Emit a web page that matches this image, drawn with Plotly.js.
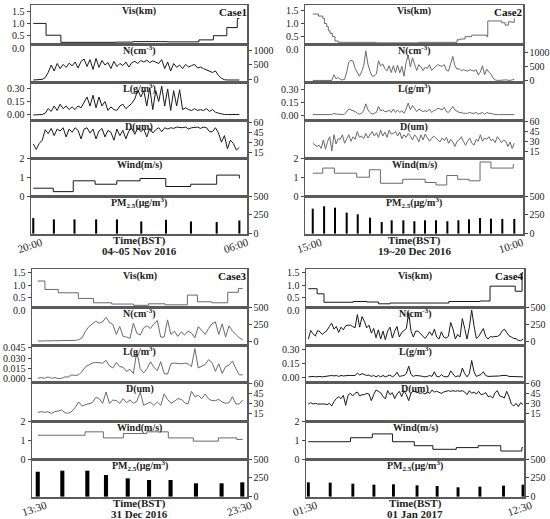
<!DOCTYPE html>
<html><head><meta charset="utf-8">
<script src="https://cdn.plot.ly/plotly-3.0.1.min.js"></script>
<style>html,body{margin:0;padding:0;background:#fff}#chart{width:550px;height:519px}</style>
</head><body><div id="chart"></div>
<script>
// ================= DATA (hours since start of each case) =================
// ---- Case 1 : 04~05 Nov 2016, 20:00 - 06:00 ----
const case1Label = 'Case1', case1Date = '04~05 Nov 2016', case1Ticks = ['20:00', '06:00'], case1Span = 10;
const vis1T = [0, 0.62, 1.34, 4.0, 4.85, 6.5, 8.04, 8.74, 9.39, 9.9, 10];
const vis1 = [1.0, 0.52, 0.23, 0.24, 0.26, 0.25, 0.33, 0.5, 0.83, 1.2, 1.2];
const n1 = [0,0,0,20,80,250,500,300,550,380, 520,420,560,470,600,400,620,700,450,680,
  350,720,420,650,500,580,380,620,450,550, 480,600,430,580,620,550,650,600,660,580,
  640,600,550,680,380,600,300,550,420,500, 380,520,430,480,520,400,430,380,330,300,
  250,300,150,60,10,0,0,0,0,0];
const l1 = [0,0,0,0.005,0.02,0.07,0.04,0.1,0.05,0.12, 0.07,0.1,0.06,0.09,0.06,0.1,0.08,0.14,0.2,0.1,
  0.22,0.08,0.2,0.1,0.15,0.05,0.09,0.06,0.05,0.1, 0.12,0.07,0.1,0.13,0.18,0.28,0.2,0.27,0.1,0.3,
  0.06,0.27,0.15,0.32,0.1,0.29,0.05,0.27,0.1,0.28, 0.06,0.08,0.06,0.05,0.07,0.05,0.06,0.05,0.07,0.04,
  0.06,0.03,0.02,0.01,0.005,0.005,0.005,0.005,0.005,0.005];
const d1 = [27,19,28,33,49,43,51,40,50,47, 52,38,50,45,52,48,35,50,52,44, 50,35,47,51,38,48,45,33,50,40,
  48,35,47,51,42,52,46,50,38,51, 44,49,52,46,52,50,52,51,53,52, 52,53,50,52,52,53,51,53,52,46,
  46,52,44,30,40,20,33,28,18,22];
const wind1T = [0, 0.97, 1.94, 3.0, 4.05, 5.18, 6.43, 7.64, 8.9, 9.9, 10];
const wind1 = [0.41, 0.23, 0.8, 0.62, 0.8, 0.92, 0.5, 0.62, 1.1, 1.1, 0.92];
const pm1T = [0, 1.0, 2.0, 3.05, 4.06, 5.24, 6.44, 7.65, 8.9, 10];
const pm1 = [206, 189, 189, 189, 189, 162, 184, 162, 154, 175];

// ---- Case 2 : 19~20 Dec 2016, 15:00 - 10:00 ----
const case2Label = 'Case2', case2Date = '19~20 Dec 2016', case2Ticks = ['15:00', '10:00'], case2Span = 19;
const vis2T = [0,0.53,0.94,1.1,1.32,1.47,1.63,1.85,2.1,2.42,6,10,13.5,13.6,13.9,14.36,14.98,16.24,16.4,16.5,17.18,17.81,18.13,18.44,18.75,19];
const vis2 = [1.37,1.29,1.2,1.0,0.88,0.72,0.62,0.49,0.32,0.27,0.25,0.27,0.27,0.37,0.4,0.49,0.55,0.55,0.49,1.1,1.1,1.03,0.94,1.07,1.05,1.2];
const n2 = [0,0,0,0,0,0,0,0,0,0, 200,60,100,40,20,40,300,650,720,680, 420,280,150,300,520,1050,580,320,150,160,
  230,700,520,580,420,340,520,280,520,280, 540,270,500,150,640,900,480,800,600,350, 560,480,350,470,420,560,360,420,470,560,
  520,500,560,360,330,600,850,520,400,420, 340,380,360,330,380,360,330,380,200,300, 520,200,400,290,230,80,20,0,10,10,
  20,20,10,0,20,40];
const l2 = [0.005,0.005,0.005,0.005,0.005,0.005,0.005,0.005,0.01,0.005, 0.02,0.01,0.01,0.005,0.005,0.01,0.04,0.07,0.06,0.05,
  0.04,0.02,0.01,0.02,0.05,0.13,0.06,0.03,0.01,0.02, 0.03,0.1,0.05,0.06,0.04,0.04,0.06,0.03,0.07,0.03,
  0.06,0.03,0.05,0.02,0.07,0.14,0.06,0.11,0.07,0.04, 0.07,0.05,0.04,0.05,0.04,0.07,0.03,0.05,0.06,0.08,
  0.07,0.06,0.09,0.04,0.03,0.07,0.1,0.06,0.04,0.03, 0.03,0.02,0.02,0.02,0.03,0.02,0.02,0.03,0.01,0.02,
  0.03,0.01,0.03,0.02,0.02,0.01,0.005,0.005,0.005,0.005, 0.005,0.005,0.005,0.005,0.005,0.005];
const d2 = [27,24,22,24,19,32,18,30,37,15, 40,26,34,33,40,27,34,40,30,37, 33,45,36,38,34,42,35,40,45,38,
  43,36,47,38,44,36,47,41,42,45, 38,44,34,40,36,42,38,32,40,36, 29,40,32,41,36,30,34,38,35,32,
  29,35,31,36,27,33,29,22,30,32, 37,30,24,30,35,27,24,33,30,40, 30,35,33,37,31,33,28,37,33,28,
  32,30,22,29,19,27];
const wind2T = [0,0.94,2.04,4.14,5.34,6.38,8.48,10.59,11.62,12.63,13.66,14.73,15.77,16.8,18.9,19];
const wind2 = [1.2,1.47,1.2,0.99,1.38,0.67,0.88,0.71,0.58,1.08,0.88,0.8,1.79,1.47,1.65,1.65];
const pm2T = [0,1.07,2.1,3.2,4.24,5.4,6.5,7.44,8.54,9.58,10.58,11.62,12.69,13.73,14.73,15.77,16.8,17.87,19.0];
const pm2 = [332,363,345,279,257,212,155,177,177,164,177,177,164,177,190,208,199,195,195];

// ---- Case 3 : 31 Dec 2016, 13:30 - 23:30 ----
const case3Label = 'Case3', case3Date = '31 Dec 2016', case3Ticks = ['13:30', '23:30'], case3Span = 10;
const vis3T = [0,0.35,1.0,1.98,2.72,3.61,4.67,5.4,6.21,7.3,7.79,8.49,9.27,9.79,10];
const vis3 = [1.16,0.83,0.7,0.48,0.31,0.26,0.21,0.27,0.23,0.61,0.35,0.31,0.72,0.87,0.87];
const n3 = [0,0,0,0,0,0,0,0,0,0, 5,10,20,50,150,220,260,300,270,290, 360,280,250,100,220,70,60,40,270,120,
  90,200,230,190,260,310,60,60,320,100, 150,70,140,90,150,120,50,220,160,100, 190,260,290,100,260,60,230,150,100,50, 20];
const l3 = [0.001,0.002,0.001,0.003,0.001,0.002,0.0005,0.001,0.003,0.003, 0.006,0.005,0.006,0.011,0.018,0.021,0.023,0.024,0.023,0.023,
  0.027,0.019,0.016,0.024,0.018,0.017,0.011,0.014,0.008,0.04, 0.015,0.009,0.015,0.025,0.017,0.012,0.025,0.008,0.007,0.022,
  0.023,0.022,0.022,0.023,0.022,0.018,0.044,0.016,0.018,0.021, 0.028,0.024,0.011,0.022,0.008,0.018,0.02,0.026,0.015,0.006, 0.006];
const d3 = [16.5,17.5,16.5,17.5,15,17.5,18.5,20,16,15, 18,24,32,26,28,30,31,39,37,30, 47,30,35,34,30,37,31,35,30,33,
  47,27,30,32,27,32,27,44,36,30, 33,37,36,31,29,48,40,42,37,44, 37,34,34,36,32,30,31,40,29,29, 35];
const wind3T = [0,2.31,3.2,4.18,5.32,6.37,7.59,8.81,9.71,10];
const wind3 = [1.25,1.43,1.11,1.34,1.43,1.11,0.94,1.11,1.03,1.03];
const pm3T = [0,1.2,2.42,3.33,4.39,5.43,6.48,7.72,8.97,9.98];
const pm3 = [331,345,345,287,243,221,221,177,177,190];

// ---- Case 4 : 01 Jan 2017, 01:30 - 12:30 ----
const case4Label = 'Case4', case4Date = '01 Jan 2017', case4Ticks = ['01:30', '12:30'], case4Span = 11;
const vis4T = [0,0.45,0.8,2.3,3.0,3.6,4.2,7.2,8.8,9.31,10.6,10.95,11.0];
const vis4 = [0.86,0.66,0.33,0.36,0.34,0.27,0.3,0.36,0.38,0.96,0.76,1.49,1.49];
const n4 = [28,160,110,75,160,140,100,130,160,220, 270,180,220,130,210,170,230,240,240,220, 200,400,210,370,300,200,240,120,190,50,
  170,30,150,20,150,210,45,150,220,60, 130,160,190,430,150,60,150,150,110,80, 40,85,140,85,180,60,30,140,60,45,
  70,280,180,30,100,60,340,190,30,210, 470,230,40,70,140,190,70,30,70,60, 70,70,90,150,180,130,80,60,40,35, 10,5,28];
const l4 = [0.005,0.01,0.01,0.005,0.01,0.01,0.005,0.01,0.015,0.02, 0.02,0.015,0.02,0.01,0.02,0.015,0.02,0.02,0.02,0.02,
  0.02,0.045,0.025,0.04,0.03,0.02,0.025,0.01,0.02,0.005, 0.02,0.005,0.02,0.005,0.015,0.025,0.005,0.02,0.055,0.01,
  0.015,0.02,0.04,0.12,0.03,0.01,0.02,0.02,0.015,0.01, 0.005,0.01,0.02,0.01,0.06,0.01,0.005,0.03,0.01,0.005,
  0.01,0.07,0.03,0.005,0.015,0.01,0.1,0.04,0.005,0.04, 0.18,0.06,0.01,0.02,0.03,0.06,0.02,0.01,0.01,0.01,
  0.01,0.01,0.015,0.02,0.02,0.02,0.01,0.01,0.01,0.005, 0.002,0.002,0.005];
const d4 = [29,31,29,30,29,29,30,29,28,30, 26,33,37,40,37,42,27,42,45,41, 45,47,41,43,43,45,44,34,43,50,
  48,46,40,37,49,43,46,37,44,48, 40,49,43,34,45,49,47,46,45,46, 44,47,45,50,47,48,46,45,47,48,
  49,48,49,48,49,48,49,47,43,49, 45,47,44,48,43,44,46,40,41,38, 46,49,41,40,38,48,40,29,26,30, 25,31,28];
const wind4T = [0,2.16,3.28,4.31,5.43,6.38,7.58,8.7,9.86,10.94,11.0];
const wind4 = [0.91,1.12,1.32,0.91,0.7,0.51,0.6,0.7,0.42,0.6,0.6];
const pm4T = [0,1.12,2.28,3.36,4.36,5.57,6.6,7.67,8.79,10.0,11.0];
const pm4 = [190,186,172,159,164,150,141,124,133,146,159];

// regularly sampled series -> sample times across the case span
function sampleTimes(values, span) { return values.map((_, i) => i * span / (values.length - 1)); }

// ================= LAYOUT / STYLE =================
const W = 550, H = 519;
const fx = px => px / W;
const fy = px => 1 - px / H;
const FONT = 'Liberation Serif, Times New Roman, serif';
const LINE = '#5a5a5a';

const cases = [
  {label: case1Label, date: case1Date, ticks: case1Ticks, span: case1Span,
   visT: vis1T, vis: vis1, n: n1, l: l1, d: d1, windT: wind1T, wind: wind1, pmT: pm1T, pm: pm1,
   x0: 31, x1: 247, rows: [5, 44, 82, 120, 158, 196, 234], xr: [-0.11, 10.37], color: '#1a1a1a', barW: 0.1,
   rng: {vis: [0.163, 1.748], n: [-67, 1200], l: [-0.056, 0.367], d: [5.9, 63.8], wind: [0, 2], pm: [-5, 500]},
   nTicks: [0, 500, 1000], lTicks: [0, 0.15, 0.3], lFmt: '.2f'},
  {label: case2Label, date: case2Date, ticks: case2Ticks, span: case2Span,
   visT: vis2T, vis: vis2, n: n2, l: l2, d: d2, windT: wind2T, wind: wind2, pmT: pm2T, pm: pm2,
   x0: 305, x1: 523, rows: [5, 44, 82, 120, 158, 196, 234], xr: [-0.73, 19.82], color: '#6a6a6a', barW: 0.19,
   rng: {vis: [0.206, 1.72], n: [-55, 1290], l: [-0.058, 0.385], d: [4.5, 62.5], wind: [0, 2], pm: [-5, 500]},
   nTicks: [0, 500, 1000], lTicks: [0, 0.15, 0.3], lFmt: '.2f'},
  {label: case3Label, date: case3Date, ticks: case3Ticks, span: case3Span,
   visT: vis3T, vis: vis3, n: n3, l: l3, d: d3, windT: wind3T, wind: wind3, pmT: pm3T, pm: pm3,
   x0: 32, x1: 247, rows: [269, 307, 345, 382, 421, 459, 497], xr: [-0.28, 10.21], color: '#6a6a6a', barW: 0.2,
   rng: {vis: [0.145, 1.63], n: [-60, 515], l: [-0.0044, 0.0493], d: [3.5, 62], wind: [0, 2], pm: [-5, 500]},
   nTicks: [0, 250, 500], lTicks: [0, 0.015, 0.03, 0.045], lFmt: '.3f'},
  {label: case4Label, date: case4Date, ticks: case4Ticks, span: case4Span,
   visT: vis4T, vis: vis4, n: n4, l: l4, d: d4, windT: wind4T, wind: wind4, pmT: pm4T, pm: pm4,
   x0: 306, x1: 524, rows: [269, 307, 345, 382, 421, 459, 497], xr: [-0.12, 11.05], color: '#1a1a1a', barW: 0.15,
   rng: {vis: [0.145, 1.63], n: [-60, 515], l: [-0.05, 0.347], d: [3.5, 62], wind: [0, 2], pm: [-5, 500]},
   nTicks: [0, 250, 500], lTicks: [0, 0.15, 0.3], lFmt: '.2f'}
];

const traces = [];
const annotations = [];
const layout = {
  width: W, height: H, autosize: false, showlegend: false,
  margin: {l: 0, r: 0, t: 0, b: 0, pad: 0},
  paper_bgcolor: '#fff', plot_bgcolor: 'rgba(0,0,0,0)',
  font: {family: FONT, size: 10, color: '#222'}
};

cases.forEach((c, ci) => {
  const rowsDef = [
    {key: 'vis', side: 'left', title: 'Vis(km)', x: c.visT, y: c.vis, shape: 'hv', tickvals: [0.5, 1, 1.5], fmt: '.1f'},
    {key: 'n', side: 'right', title: 'N(cm<sup>-3</sup>)', x: sampleTimes(c.n, c.span), y: c.n, tickvals: c.nTicks},
    {key: 'l', side: 'left', title: 'L(g/m<sup>3</sup>)', x: sampleTimes(c.l, c.span), y: c.l, tickvals: c.lTicks, fmt: c.lFmt},
    {key: 'd', side: 'right', title: 'D(um)', x: sampleTimes(c.d, c.span), y: c.d, tickvals: [15, 30, 45, 60]},
    {key: 'wind', side: 'left', title: 'Wind(m/s)', x: c.windT, y: c.wind, shape: 'hv', tickvals: [0, 1, 2]},
    {key: 'pm', side: 'right', title: 'PM<sub>2.5</sub>(μg/m<sup>3</sup>)', x: c.pmT, y: c.pm, bar: true, tickvals: [0, 250, 500]}
  ];
  rowsDef.forEach((r, ri) => {
    const k = ci * 6 + ri + 1;
    const sfx = k === 1 ? '' : String(k);
    const top = c.rows[ri], bot = c.rows[ri + 1];
    const isBottom = ri === 5;
    const xa = {
      domain: [fx(c.x0), fx(c.x1)], anchor: 'y' + sfx, range: c.xr,
      showline: true, mirror: true, linecolor: LINE, linewidth: 1.5,
      showgrid: false, zeroline: false, ticks: '', showticklabels: isBottom
    };
    if (isBottom) {
      Object.assign(xa, {tickmode: 'array', tickvals: [0, c.span], ticktext: c.ticks,
        tickangle: -18, ticklabelshift: 8, ticklabelstandoff: -3,
        tickfont: {family: FONT, size: 11, color: '#222'}});
    }
    layout['xaxis' + sfx] = xa;
    layout['yaxis' + sfx] = {
      domain: [fy(bot), fy(top)], anchor: 'x' + sfx, range: c.rng[r.key], side: r.side,
      showline: true, mirror: true, linecolor: LINE, linewidth: 1.5,
      showgrid: false, zeroline: false, ticks: 'outside', ticklen: 3, tickwidth: 1, tickcolor: '#444',
      tickmode: 'array', tickvals: r.tickvals, tickformat: r.fmt || '',
      tickfont: {family: FONT, size: 10, color: '#222'}
    };
    if (r.bar) {
      traces.push({type: 'bar', x: r.x, y: r.y, width: c.barW, marker: {color: '#000', line: {width: 0}},
        xaxis: 'x' + sfx, yaxis: 'y' + sfx, hoverinfo: 'skip'});
    } else {
      traces.push({type: 'scatter', mode: 'lines', x: r.x, y: r.y,
        line: {color: c.color, width: 1, shape: r.shape || 'linear'},
        xaxis: 'x' + sfx, yaxis: 'y' + sfx, hoverinfo: 'skip'});
    }
    // row title
    annotations.push({xref: 'paper', yref: 'paper', x: fx((c.x0 + c.x1) / 2), y: fy(top + 6.5),
      xanchor: 'center', yanchor: 'middle', showarrow: false,
      text: '<b>' + r.title + '</b>', font: {family: FONT, size: 10, color: '#222'}});
    if (ri === 0) {
      annotations.push({xref: 'paper', yref: 'paper', x: fx(c.x1 + 2), y: fy(top + 7),
        xanchor: 'right', yanchor: 'middle', showarrow: false,
        text: '<b>' + c.label + '</b>', font: {family: FONT, size: 11, color: '#111'}});
      // "0.0" label of the visibility axis, which sits just below the panel
      const rg = c.rng.vis;
      const yz = fy(bot) + (0 - rg[0]) / (rg[1] - rg[0]) * (fy(top) - fy(bot));
      annotations.push({xref: 'paper', yref: 'paper', x: fx(c.x0 - 4), y: yz,
        xanchor: 'right', yanchor: 'middle', showarrow: false,
        text: '0.0', font: {family: FONT, size: 10, color: '#222'}});
    }
    if (isBottom) {
      annotations.push({xref: 'paper', yref: 'paper', x: fx((c.x0 + c.x1) / 2), y: fy(bot + 6),
        xanchor: 'center', yanchor: 'middle', showarrow: false,
        text: '<b>Time(BST)</b>', font: {family: FONT, size: 11, color: '#222'}});
      annotations.push({xref: 'paper', yref: 'paper', x: fx((c.x0 + c.x1) / 2), y: fy(bot + 16.5),
        xanchor: 'center', yanchor: 'middle', showarrow: false,
        text: '<b>' + c.date + '</b>', font: {family: FONT, size: 11, color: '#222'}});
    }
  });
});
layout.annotations = annotations;

Plotly.newPlot('chart', traces, layout, {staticPlot: true, displayModeBar: false});
</script>
</body></html>
